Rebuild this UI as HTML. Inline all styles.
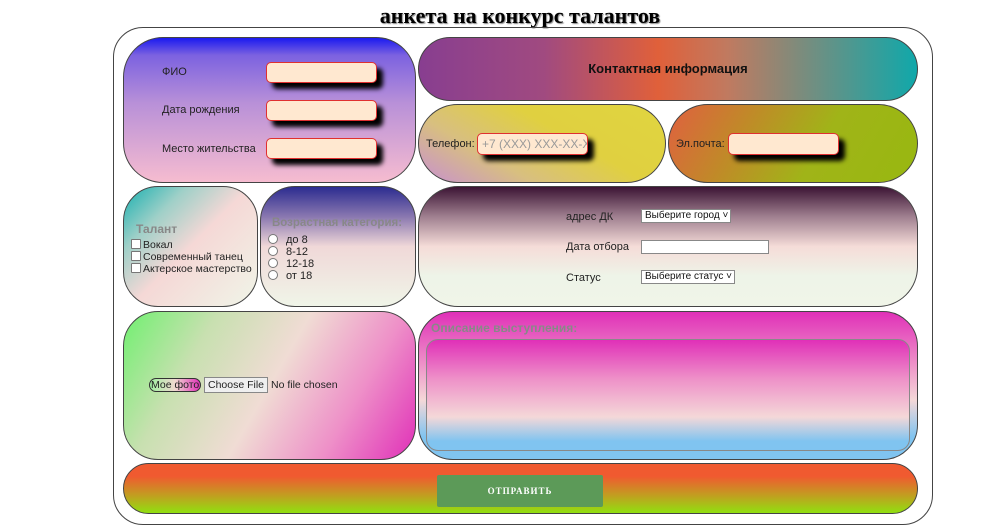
<!DOCTYPE html>
<html><head><meta charset="utf-8"><style>
*{box-sizing:border-box;margin:0;padding:0}
body{width:1000px;height:531px;background:#fff;position:relative;overflow:hidden;font-family:"Liberation Sans",Arial,sans-serif;font-size:11px;color:#222}
.a{position:absolute}
.p{position:absolute;border:1px solid #444}
h1{position:absolute;left:320px;width:400px;top:3px;text-align:center;font:bold 22px "Liberation Serif",serif;color:#000;text-shadow:1px 1px 1px #888}
.in{position:absolute;background:#ffe8d0;border:1px solid #e03030;border-radius:5px;box-shadow:6px 6px 5px #000}
.lbl{position:absolute;font-size:11px;color:#222;white-space:nowrap}
.cb{display:inline-block;width:10px;height:10px;border:1px solid #777;background:#fff;vertical-align:-1px;margin-right:2px;border-radius:1px}
.rd{display:inline-block;width:10px;height:10px;border:1px solid #777;background:#fff;border-radius:50%;vertical-align:-1px;margin-right:8px}
.sel{position:absolute;background:#fff;border:1px solid #888;font-size:10px;padding:0 3px;color:#111;white-space:nowrap;overflow:hidden}
</style></head><body>
<h1>анкета на конкурс талантов</h1>
<div class="a" style="left:113px;top:27px;width:820px;height:498px;border:1px solid #444;border-radius:30px"></div>

<div class="p" style="left:123px;top:37px;width:293px;height:146px;border-radius:40px;background:linear-gradient(180deg,#1a1af0 0%,#7c62e0 12%,#b890d8 45%,#f6bcd0 100%)"></div>
<div class="lbl" style="left:162px;top:66px">ФИО</div>
<div class="lbl" style="left:162px;top:104px">Дата рождения</div>
<div class="lbl" style="left:162px;top:143px">Место жительства</div>
<div class="in" style="left:266px;top:62px;width:111px;height:21px"></div>
<div class="in" style="left:266px;top:100px;width:111px;height:21px"></div>
<div class="in" style="left:266px;top:138px;width:111px;height:21px"></div>

<div class="p" style="left:418px;top:37px;width:500px;height:64px;border-radius:32px;background:linear-gradient(90deg,#883e90 0%,#a04a80 25%,#e0603a 48%,#c07a60 62%,#10a8aa 100%)"></div>
<div class="a" style="left:418px;top:61px;width:500px;text-align:center;font-weight:bold;font-size:13px;color:#111">Контактная информация</div>

<div class="p" style="left:418px;top:104px;width:248px;height:79px;border-radius:40px;background:linear-gradient(30deg,#c890d0 0%,#d8bf80 30%,#e0d040 60%,#e0d540 100%)"></div>
<div class="lbl" style="left:426px;top:138px">Телефон:</div>
<div class="in" style="left:477px;top:133px;width:111px;height:22px;font-size:12px;color:#999;padding:3px 4px;white-space:nowrap;overflow:hidden">+7 (XXX) XXX-XX-XX</div>

<div class="p" style="left:668px;top:104px;width:250px;height:79px;border-radius:40px;background:linear-gradient(120deg,#e06040 0%,#c08a28 30%,#a0b418 60%,#98b810 100%)"></div>
<div class="lbl" style="left:676px;top:138px">Эл.почта:</div>
<div class="in" style="left:728px;top:133px;width:111px;height:22px"></div>

<div class="p" style="left:123px;top:186px;width:135px;height:121px;border-radius:35px;background:linear-gradient(135deg,#18b0b0 0%,#a0d0c8 25%,#f5d8d6 50%,#f0f5e8 100%)"></div>
<div class="a" style="left:136px;top:222px;font-weight:bold;font-size:12px;color:#888">Талант</div>
<div class="a" style="left:131px;top:239px;line-height:12px;font-size:10.5px;white-space:nowrap"><span class="cb"></span>Вокал<br><span class="cb"></span>Современный танец<br><span class="cb"></span>Актерское мастерство</div>

<div class="p" style="left:260px;top:186px;width:156px;height:121px;border-radius:35px;background:linear-gradient(180deg,#2c2c90 0%,#8a78b0 25%,#f0d8d8 50%,#f0f5e8 100%)"></div>
<div class="a" style="left:272px;top:217px;font-weight:bold;font-size:11.5px;color:#888;white-space:nowrap">Возрастная категория:</div>
<div class="a" style="left:268px;top:234px;line-height:12px;font-size:11px"><span class="rd"></span>до 8<br><span class="rd"></span>8-12<br><span class="rd"></span>12-18<br><span class="rd"></span>от 18</div>

<div class="p" style="left:418px;top:186px;width:500px;height:121px;border-radius:40px;background:linear-gradient(180deg,#3c1434 0%,#a08090 25%,#f5dcd8 50%,#eef4e8 75%,#f0f5e8 100%)"></div>
<div class="lbl" style="left:566px;top:211px">адрес ДК</div>
<div class="sel" style="left:641px;top:209px;width:90px;height:14px;line-height:12px">Выберите город ˅</div>
<div class="lbl" style="left:566px;top:241px">Дата отбора</div>
<div class="a" style="left:641px;top:240px;width:128px;height:14px;background:#fff;border:1px solid #888"></div>
<div class="lbl" style="left:566px;top:272px">Статус</div>
<div class="sel" style="left:641px;top:270px;width:94px;height:14px;line-height:12px">Выберите статус ˅</div>

<div class="p" style="left:123px;top:311px;width:293px;height:149px;border-radius:35px;background:linear-gradient(120deg,#70f070 0%,#c8e0b0 25%,#f0dcd4 50%,#ee90c8 75%,#e030b8 100%)"></div>
<div class="a" style="left:149px;top:378px;height:14px;padding:0 1px;border:1px solid #333;border-radius:7px;background:linear-gradient(90deg,#a0f0a0,#f0d8d0,#e030b8);font-size:10.5px;line-height:12px;white-space:nowrap">Мое фото</div>
<div class="a" style="left:204px;top:377px;width:64px;height:16px;background:#efefef;border:1px solid #888;font-size:10.5px;line-height:14px;text-align:center;white-space:nowrap">Choose File</div>
<div class="lbl" style="left:271px;top:379px;font-size:10.5px">No file chosen</div>

<div class="p" style="left:418px;top:311px;width:500px;height:149px;border-radius:35px;background:linear-gradient(180deg,#e030b8 0%,#ee90c8 35%,#f4d8d8 60%,#80c4f0 85%,#80c4f0 100%)"></div>
<div class="a" style="left:431px;top:321px;font-weight:bold;font-size:12px;color:#888">Описание выступления:</div>
<div class="a" style="left:426px;top:339px;width:484px;height:112px;border:1px solid #888;border-radius:12px;background:linear-gradient(180deg,#e030b8 0%,#ee90c8 35%,#f4d8d8 70%,#80c4f0 92%)"></div>

<div class="p" style="left:123px;top:463px;width:795px;height:51px;border-radius:28px;background:linear-gradient(180deg,#f05a30 0%,#f05a30 25%,#c0a020 65%,#90e010 100%)"></div>
<div class="a" style="left:437px;top:475px;width:166px;height:32px;background:#5c9a58;border-radius:2px;color:#fff;font:bold 9px 'Liberation Serif',serif;letter-spacing:1px;text-align:center;line-height:32px">ОТПРАВИТЬ</div>
</body></html>
